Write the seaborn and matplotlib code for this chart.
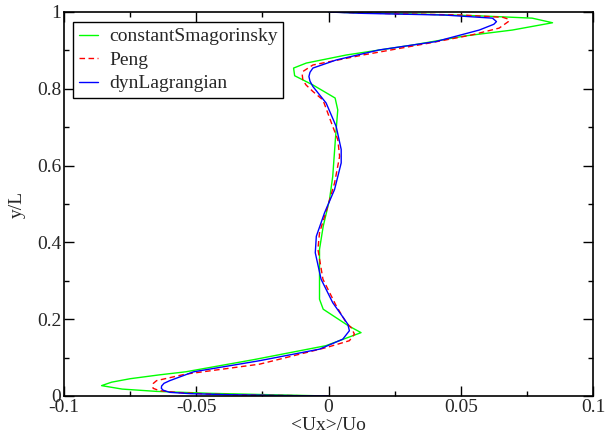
import matplotlib
matplotlib.use("Agg")
import matplotlib.pyplot as plt
import seaborn as sns
import pandas as pd
from matplotlib.ticker import MultipleLocator

# constantSmagorinsky
smag_y = [0, 0.003, 0.007, 0.012, 0.018, 0.027, 0.036, 0.045, 0.055, 0.063, 0.095, 0.131, 0.165,
          0.183, 0.226, 0.252, 0.382, 0.442, 0.512, 0.572, 0.668, 0.745, 0.776, 0.810, 0.834,
          0.854, 0.867, 0.888, 0.914, 0.938, 0.953, 0.972, 0.984, 0.990, 0.995, 0.998, 1.0]
smag_x = [0, -0.02, -0.045, -0.065, -0.078, -0.0858, -0.082, -0.075, -0.064, -0.054, -0.028, -0.001, 0.0123,
          0.0075, -0.002, -0.0034, -0.0034, -0.002, 0.0004, 0.0016, 0.0026, 0.0035, 0.0025, -0.0059, -0.0128,
          -0.0132, -0.0084, 0.0067, 0.0318, 0.052, 0.0695, 0.0847, 0.077, 0.057, 0.032, 0.010, 0.0]

# Peng
peng_y = [0, 0.002, 0.005, 0.009, 0.014, 0.020, 0.026, 0.033, 0.040, 0.057, 0.083, 0.126, 0.144, 0.161,
          0.178, 0.191, 0.235, 0.304, 0.382, 0.425, 0.494, 0.555, 0.624, 0.668, 0.702, 0.771, 0.793, 0.810,
          0.823, 0.835, 0.845, 0.862, 0.888, 0.919, 0.940, 0.958, 0.975, 0.981, 0.986, 0.992, 0.9965, 1.0]
peng_x = [0, -0.025, -0.045, -0.057, -0.064, -0.0663, -0.0665, -0.0662, -0.065, -0.054, -0.026, -0.0009,
          0.0079, 0.0098, 0.0086, 0.0067, 0.0029, -0.0021, -0.004, -0.0034, -0.0003, 0.0023, 0.0042, 0.0035,
          0.0016, -0.0021, -0.0059, -0.0085, -0.0097, -0.0099, -0.0097, -0.0059, 0.013, 0.038, 0.054, 0.0645,
          0.068, 0.0682, 0.066, 0.0507, 0.019, 0]

# dynLagrangian
dyn_y = [0, 0.0015, 0.0035, 0.006, 0.0095, 0.015, 0.020, 0.026, 0.033, 0.040, 0.063, 0.092, 0.122, 0.148,
         0.170, 0.187, 0.200, 0.243, 0.304, 0.373, 0.416, 0.477, 0.538, 0.607, 0.642, 0.702, 0.763, 0.806,
         0.820, 0.832, 0.843, 0.854, 0.875, 0.901, 0.923, 0.953, 0.968, 0.975, 0.984, 0.992, 0.9965, 1.0]
dyn_x = [0, -0.020, -0.0386, -0.052, -0.060, -0.0625, -0.0632, -0.0631, -0.0622, -0.060, -0.051, -0.026,
         -0.0034, 0.0054, 0.0079, 0.0073, 0.006, 0.0016, -0.0028, -0.005, -0.0046, -0.0015, 0.0023, 0.0048,
         0.0048, 0.0029, -0.0009, -0.0059, -0.0070, -0.0074, -0.0070, -0.0059, 0.0029, 0.019, 0.0406, 0.057,
         0.0625, 0.0635, 0.062, 0.044, 0.013, 0]

labels = ["constantSmagorinsky", "Peng", "dynLagrangian"]

sns.set_style("ticks")
plt.rcParams['font.family'] = ['Liberation Serif', 'DejaVu Serif']
plt.rcParams['font.size'] = 14

fig = plt.figure(figsize=(6.06, 4.37), dpi=100)
ax = fig.add_axes([64/606, 1-396/437, (593-64)/606, (396-12)/437])

sns.lineplot(x=smag_x, y=smag_y, sort=False, estimator=None, ax=ax, color="#00ff00", lw=1.0, label=labels[0])
sns.lineplot(x=peng_x, y=peng_y, sort=False, estimator=None, ax=ax, color="#ff0000", lw=1.0, label=labels[1])
ax.lines[-1].set_dashes([4, 2.5])
sns.lineplot(x=dyn_x, y=dyn_y, sort=False, estimator=None, ax=ax, color="#0000ff", lw=1.0, label=labels[2])

ax.set_xlim(-0.1, 0.1)
ax.set_ylim(0, 1)
ax.xaxis.set_minor_locator(MultipleLocator(0.025))
ax.yaxis.set_minor_locator(MultipleLocator(0.1))
ax.set_xticks([-0.1, -0.05, 0, 0.05, 0.1])
ax.set_xticklabels(["-0.1", "-0.05", "0", "0.05", "0.1"])
ax.set_yticks([0, 0.2, 0.4, 0.6, 0.8, 1.0])
ax.set_yticklabels(["0", "0.2", "0.4", "0.6", "0.8", "1"])
ax.tick_params(which='both', direction='in', top=True, right=True, labelsize=14, color='black', width=1.0)
ax.tick_params(which='major', length=7, pad=2)
ax.tick_params(which='minor', length=3.5)
for s in ax.spines.values():
    s.set_linewidth(1.2)
    s.set_color('black')

ax.set_xlabel("<Ux>/Uo", fontsize=14, labelpad=1)
ax.set_ylabel("y/L", fontsize=14, labelpad=8)

leg = ax.legend(loc='upper left', bbox_to_anchor=(0.017, 0.974), borderaxespad=0, fancybox=False,
                edgecolor='black', framealpha=1, fontsize=14, handlelength=1.0, handletextpad=0.55,
                borderpad=0.3, labelspacing=0.3)
leg.get_frame().set_linewidth(1.0)

fig.savefig("out.png", dpi=100)
